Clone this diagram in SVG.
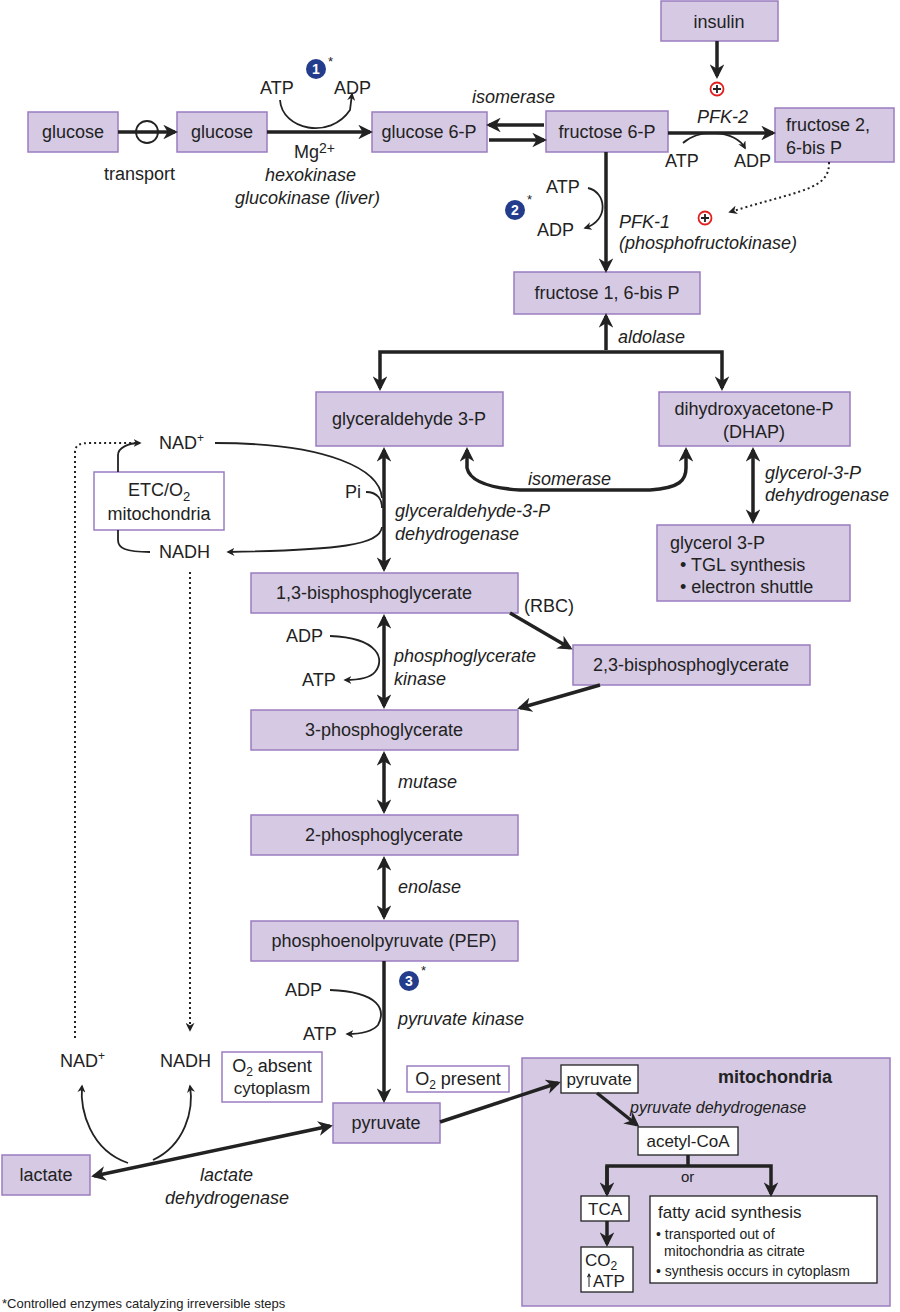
<svg xmlns="http://www.w3.org/2000/svg" width="900" height="1312" viewBox="0 0 900 1312">
<style>
text{font-family:"Liberation Sans",Arial,sans-serif;font-size:18px;fill:#222}
.i{font-style:italic}
.f17{font-size:17px}
.f16{font-size:16px}
.f15{font-size:15px}
.f14{font-size:14px}
.f13{font-size:13px}
.b{fill:#d5c9e3;stroke:#9b7cc0;stroke-width:1.5}
.w{fill:#fff;stroke:#9b7cc0;stroke-width:1.5}
.k{fill:#fff;stroke:#222;stroke-width:1.3}
.t{stroke:#222;stroke-width:3.5;fill:none}
.n{stroke:#222;stroke-width:1.8;fill:none}
.d{stroke:#222;stroke-width:2;fill:none;stroke-dasharray:2 3}
.c{fill:#233d8c}
text.ct{fill:#fff;font-weight:bold;font-size:14px}
.p{fill:#fff;stroke:#e0201f;stroke-width:1.8}
</style>
<defs>
<marker id="a" viewBox="0 0 10 10" refX="8" refY="5" markerWidth="4.5" markerHeight="4.5" orient="auto-start-reverse"><path d="M0,0 L10,5 L0,10 L3,5z" fill="#222"/></marker>
<marker id="s" viewBox="0 0 10 10" refX="8" refY="5" markerWidth="4.2" markerHeight="4.2" orient="auto-start-reverse"><path d="M0,0 L10,5 L0,10 L3,5z" fill="#222"/></marker>
</defs>
<g id="mito"><rect class="b" x="522" y="1058" width="368" height="248"/><text x="718" y="1083" style="font-weight:bold">mitochondria</text></g>
<g id="glucose1"><rect class="b" x="28" y="112" width="90" height="40"/><text x="73" y="138" text-anchor="middle">glucose</text></g>
<g id="glucose2"><rect class="b" x="177" y="112" width="90" height="40"/><text x="222" y="138" text-anchor="middle">glucose</text></g>
<g id="g6p"><rect class="b" x="372" y="112" width="115" height="40"/><text x="429" y="138" text-anchor="middle">glucose 6-P</text></g>
<g id="f6p"><rect class="b" x="546" y="111" width="122" height="41"/><text x="607" y="138" text-anchor="middle">fructose 6-P</text></g>
<g id="insulin"><rect class="b" x="661" y="1" width="117" height="40"/><text x="719" y="28" text-anchor="middle">insulin</text></g>
<g id="f26bp"><rect class="b" x="775" y="108" width="119" height="54"/><text x="786" y="131">fructose 2,</text><text x="786" y="154">6-bis P</text></g>
<g id="f16bp"><rect class="b" x="514" y="272" width="186" height="42"/><text x="607" y="299" text-anchor="middle">fructose 1, 6-bis P</text></g>
<g id="g3p"><rect class="b" x="316" y="392" width="187" height="54"/><text x="409" y="425" text-anchor="middle">glyceraldehyde 3-P</text></g>
<g id="dhap"><rect class="b" x="659" y="392" width="191" height="54"/><text x="754" y="415" text-anchor="middle">dihydroxyacetone-P</text><text x="754" y="438" text-anchor="middle">(DHAP)</text></g>
<g id="gly3p"><rect class="b" x="657" y="525" width="193" height="76"/><text x="670" y="549">glycerol 3-P</text><text x="680" y="571">• TGL synthesis</text><text x="680" y="593">• electron shuttle</text></g>
<g id="bpg13"><rect class="b" x="251" y="573" width="267" height="40"/><text x="374" y="599" text-anchor="middle">1,3-bisphosphoglycerate</text></g>
<g id="bpg23"><rect class="b" x="573" y="645" width="237" height="40"/><text x="691" y="671" text-anchor="middle">2,3-bisphosphoglycerate</text></g>
<g id="pg3"><rect class="b" x="251" y="710" width="267" height="40"/><text x="384" y="736" text-anchor="middle">3-phosphoglycerate</text></g>
<g id="pg2"><rect class="b" x="251" y="815" width="267" height="40"/><text x="384" y="841" text-anchor="middle">2-phosphoglycerate</text></g>
<g id="pep"><rect class="b" x="251" y="921" width="267" height="40"/><text x="384" y="947" text-anchor="middle">phosphoenolpyruvate (PEP)</text></g>
<g id="pyruvate"><rect class="b" x="333" y="1103" width="107" height="40"/><text x="386" y="1129" text-anchor="middle">pyruvate</text></g>
<g id="lactate"><rect class="b" x="2" y="1155" width="88" height="40"/><text x="46" y="1181" text-anchor="middle">lactate</text></g>
<g id="etc"><rect class="w" x="94" y="472" width="130" height="58"/><text x="159" y="496" text-anchor="middle">ETC/O<tspan font-size="13" dy="5">2</tspan></text><text x="159" y="520" text-anchor="middle">mitochondria</text></g>
<g id="o2absent"><rect class="w" x="222" y="1052" width="100" height="50"/><text x="272" y="1072" text-anchor="middle">O<tspan font-size="12" dy="4">2</tspan><tspan dy="-4"> absent</tspan></text><text class="f17" x="272" y="1094" text-anchor="middle">cytoplasm</text></g>
<g id="o2present"><rect class="w" x="407" y="1066" width="102" height="26"/><text x="458" y="1085" text-anchor="middle">O<tspan font-size="12" dy="4">2</tspan><tspan dy="-4"> present</tspan></text></g>
<g id="mpyr"><rect class="k" x="561" y="1065" width="77" height="28"/><text class="f17" x="599" y="1085" text-anchor="middle">pyruvate</text></g>
<g id="acoa"><rect class="k" x="638" y="1127" width="100" height="28"/><text class="f17" x="688" y="1147" text-anchor="middle">acetyl-CoA</text></g>
<g id="tca"><rect class="k" x="581" y="1196" width="48" height="25"/><text class="f17" x="605" y="1215" text-anchor="middle">TCA</text></g>
<g id="co2"><rect class="k" x="581" y="1247" width="52" height="45"/><text class="f17" x="585" y="1266">CO<tspan font-size="12" dy="4">2</tspan></text><text class="f17" x="593" y="1287">ATP</text><path d="M589,1287 V1274" stroke="#222" stroke-width="1" marker-end="url(#a)"/></g>
<g id="fas"><rect class="k" x="650" y="1196" width="227" height="87"/><text class="f17" x="658" y="1218">fatty acid synthesis</text><text class="f14" x="656" y="1239">• transported out of</text><text class="f14" x="664" y="1256">mitochondria as citrate</text><text class="f14" x="656" y="1276">• synthesis occurs in cytoplasm</text></g>
<g id="connectors">
<path class="t" d="M118,132 H175" marker-end="url(#s)"/>
<circle cx="147" cy="132" r="11" fill="none" stroke="#222" stroke-width="1.8"/>
<path class="t" d="M267,132 H370" marker-end="url(#s)"/>
<path class="n" d="M280,100 C282,130 330,140 350,110 L352,94" marker-end="url(#a)"/>
<path class="t" d="M544,125 H489" marker-end="url(#s)"/>
<path class="t" d="M489,140 H544" marker-end="url(#s)"/>
<path class="t" d="M668,133 H773" marker-end="url(#s)"/>
<path class="n" d="M683,143 C700,128 735,130 745,148" marker-end="url(#a)"/>
<path class="t" d="M717,41 V76" marker-end="url(#s)"/>
<path class="d" d="M829,162 C830,190 800,190 730,212" marker-end="url(#a)"/>
<path class="t" d="M606,152 V270" marker-end="url(#s)"/>
<path class="n" d="M588,188 C606,192 610,220 585,228" marker-end="url(#a)"/>
<path class="t" d="M606,350 V316" marker-end="url(#s)"/>
<path class="t" d="M380,388 V352 H722 V388" marker-start="url(#s)" marker-end="url(#s)"/>
<path class="t" d="M467,450 V468 C470,482 490,488 520,490 H650 C680,488 686,480 686,468 V450" marker-start="url(#s)" marker-end="url(#s)"/>
<path class="t" d="M753,450 V521" marker-start="url(#s)" marker-end="url(#s)"/>
<path class="t" d="M384,450 V569" marker-start="url(#s)" marker-end="url(#s)"/>
<path class="n" d="M215,443 C330,443 380,470 382,498"/>
<path class="n" d="M366,492 C378,492 382,500 382,508"/>
<path class="n" d="M382,527 C380,545 340,550 228,552" marker-end="url(#a)"/>
<path class="n" d="M118,472 V455 C118,448 128,443 140,443" marker-end="url(#a)"/>
<path class="n" d="M118,530 V540 C118,548 125,552 150,552"/>
<path class="d" d="M75,1038 V452 C75,445 80,443 90,443 H140" />
<path class="d" d="M190,572 V1030" marker-end="url(#a)"/>
<path class="t" d="M510,613 L570,648" marker-end="url(#s)"/>
<path class="t" d="M600,685 L520,708" marker-end="url(#s)"/>
<path class="t" d="M384,617 V706" marker-start="url(#s)" marker-end="url(#s)"/>
<path class="n" d="M330,636 C380,638 385,660 375,672 C370,678 360,680 345,680" marker-end="url(#a)"/>
<path class="t" d="M384,754 V811" marker-start="url(#s)" marker-end="url(#s)"/>
<path class="t" d="M384,859 V917" marker-start="url(#s)" marker-end="url(#s)"/>
<path class="t" d="M384,961 V1100" marker-end="url(#s)"/>
<path class="n" d="M330,990 C380,992 386,1010 378,1025 C372,1032 360,1034 347,1034" marker-end="url(#a)"/>
<path class="t" d="M330,1126 L94,1176" marker-start="url(#s)" marker-end="url(#s)"/>
<path class="n" d="M128,1163 C90,1150 80,1110 82,1086" marker-end="url(#a)"/>
<path class="n" d="M153,1160 C185,1145 194,1110 190,1086" marker-end="url(#a)"/>
<path class="t" d="M440,1122 L558,1083" marker-end="url(#s)"/>
<path class="t" d="M597,1093 L637,1125" marker-end="url(#s)"/>
<path class="t" d="M688,1155 V1166 M607,1194 V1166 H771 V1194" marker-end="url(#s)"/>
<path class="t" d="M607,1194 V1166" marker-start="url(#s)"/>
<path class="t" d="M607,1221 V1244" marker-end="url(#s)"/>
</g>
<g id="labels">
<circle class="c" cx="316" cy="69" r="10"/><text class="ct" x="316" y="74" text-anchor="middle">1</text><text class="f13" x="328" y="66">*</text>
<text x="260" y="94">ATP</text><text x="334" y="94">ADP</text>
<text x="104" y="180">transport</text>
<text x="294" y="158">Mg<tspan font-size="14" dy="-5">2+</tspan></text>
<text class="i" x="265" y="181">hexokinase</text>
<text class="i" x="235" y="204">glucokinase (liver)</text>
<text class="i" x="472" y="103">isomerase</text>
<circle cx="717" cy="89" r="6.5" class="p"/><path d="M713,89 H721 M717,85 V93" stroke="#222" stroke-width="1.8"/>
<text class="i" x="697" y="123">PFK-2</text>
<text x="665" y="167">ATP</text><text x="734" y="167">ADP</text>
<circle class="c" cx="515" cy="210" r="10"/><text class="ct" x="515" y="215" text-anchor="middle">2</text><text class="f13" x="527" y="204">*</text>
<text x="546" y="193">ATP</text><text x="537" y="236">ADP</text>
<text class="i" x="619" y="228">PFK-1</text>
<text class="i" x="619" y="249">(phosphofructokinase)</text>
<circle cx="705" cy="218" r="6.5" class="p"/><path d="M701,218 H709 M705,214 V222" stroke="#222" stroke-width="1.8"/>
<text class="i" x="618" y="343">aldolase</text>
<text class="i" x="528" y="485">isomerase</text>
<text class="i" x="765" y="479">glycerol-3-P</text>
<text class="i" x="765" y="501">dehydrogenase</text>
<text x="159" y="449">NAD<tspan font-size="12" dy="-7">+</tspan></text>
<text x="159" y="558">NADH</text>
<text x="345" y="498">Pi</text>
<text class="i" x="395" y="517">glyceraldehyde-3-P</text>
<text class="i" x="395" y="540">dehydrogenase</text>
<text x="524" y="612">(RBC)</text>
<text x="286" y="642">ADP</text><text x="302" y="686">ATP</text>
<text class="i" x="394" y="662">phosphoglycerate</text>
<text class="i" x="394" y="685">kinase</text>
<text class="i" x="398" y="788">mutase</text>
<text class="i" x="398" y="893">enolase</text>
<circle class="c" cx="409" cy="981" r="10"/><text class="ct" x="409" y="986" text-anchor="middle">3</text><text class="f13" x="421" y="975">*</text>
<text x="285" y="996">ADP</text><text x="303" y="1040">ATP</text>
<text class="i" x="398" y="1025">pyruvate kinase</text>
<text x="60" y="1067">NAD<tspan font-size="12" dy="-7">+</tspan></text>
<text x="160" y="1067">NADH</text>
<text class="i" x="200" y="1181">lactate</text>
<text class="i" x="165" y="1204">dehydrogenase</text>
<text class="i f16" x="630" y="1113">pyruvate dehydrogenase</text>
<text class="f15" x="681" y="1182">or</text>
<text class="f13" x="2" y="1308">*Controlled enzymes catalyzing irreversible steps</text>
</g>
</svg>
